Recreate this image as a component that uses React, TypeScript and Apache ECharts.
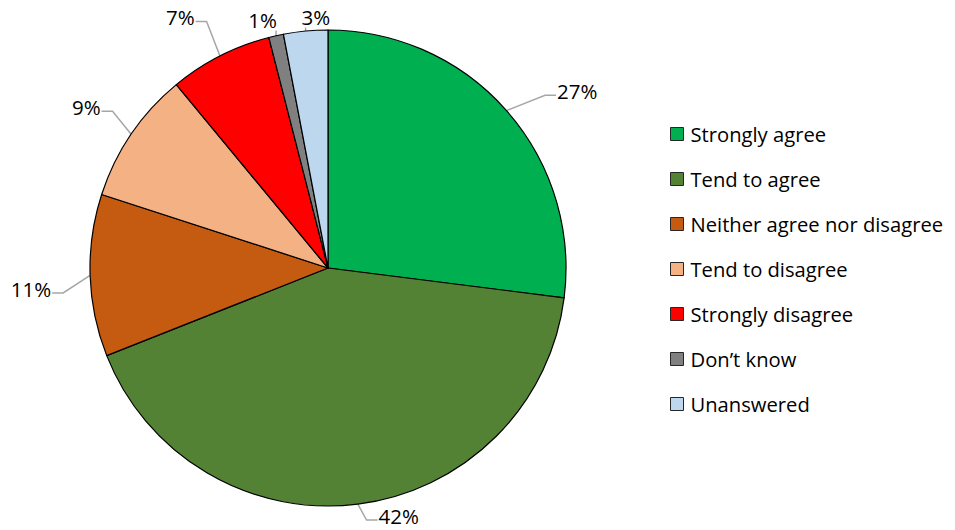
import React, { useEffect, useRef } from "react";
import * as echarts from "echarts";

const categories = [
  "Strongly agree",
  "Tend to agree",
  "Neither agree nor disagree",
  "Tend to disagree",
  "Strongly disagree",
  "Don\u2019t know",
  "Unanswered",
];
const values = [27, 42, 11, 9, 7, 1, 3];
const colors = ["#00b050", "#548235", "#c55a11", "#f4b183", "#ff0000", "#808080", "#bdd7ee"];

// per-slice label nudges [dx, dy] away from the default outside placement
const labelNudge: [number, number][] = [
  [23, -10],
  [2, -2],
  [-8, 13],
  [-2, -19],
  [-2, -26],
  [21, -2],
  [43, 0],
];

const FONT = "'Open Sans', sans-serif";

// Re-route a leader line from the slice edge to the moved label
function layoutLabel(p: any) {
  const [dx, dy] = labelNudge[p.dataIndex];
  const r = p.labelRect;
  const x0 = r.x + dx;
  const y0 = r.y + dy;
  const a = p.labelLinePoints[0];
  const cy = y0 + r.height / 2 + 4;
  let pts: number[][];
  if (a[0] >= x0 && a[0] <= x0 + r.width) {
    const b = y0 + r.height;
    pts = [[a[0], a[1]], [a[0], b], [a[0], b]];
  } else if (x0 > a[0]) {
    pts = [[a[0], a[1]], [x0 - 12, cy], [x0 - 1, cy]];
  } else {
    pts = [[a[0], a[1]], [x0 + r.width + 12, cy], [x0 + r.width + 1, cy]];
  }
  return { dx, dy, labelLinePoints: pts };
}

export default function App() {
  const ref = useRef<HTMLDivElement>(null);
  useEffect(() => {
    document.body.style.margin = "0";
    const chart = echarts.init(ref.current!, null, { renderer: "svg" });
    chart.setOption({
      animation: false,
      backgroundColor: "#ffffff",
      color: colors,
      legend: {
        orient: "vertical",
        left: 665,
        top: 119,
        itemWidth: 13,
        itemHeight: 13,
        itemGap: 25,
        icon: "rect",
        itemStyle: { borderColor: "#262626", borderWidth: 1 },
        textStyle: { fontFamily: FONT, fontSize: 20.2, color: "#000", lineHeight: 20, padding: [0, 0, 0, 2] },
        data: categories,
      },
      series: [
        {
          type: "pie",
          center: [328, 268],
          radius: 238,
          startAngle: 90,
          clockwise: true,
          avoidLabelOverlap: false,
          itemStyle: { borderColor: "#000", borderWidth: 1.2 },
          label: {
            show: true,
            position: "outside",
            formatter: "{c}%",
            fontFamily: FONT,
            fontSize: 20.5,
            color: "#000",
          },
          labelLine: {
            show: true,
            length: 14,
            length2: 12,
            lineStyle: { color: "#a6a6a6", width: 1.5 },
          },
          labelLayout: layoutLabel,
          emphasis: { disabled: true },
          data: categories.map((name, i) => ({ name, value: values[i] })),
        },
      ],
    });
    return () => chart.dispose();
  }, []);
  return <div ref={ref} style={{ width: 955, height: 530 }} />;
}
